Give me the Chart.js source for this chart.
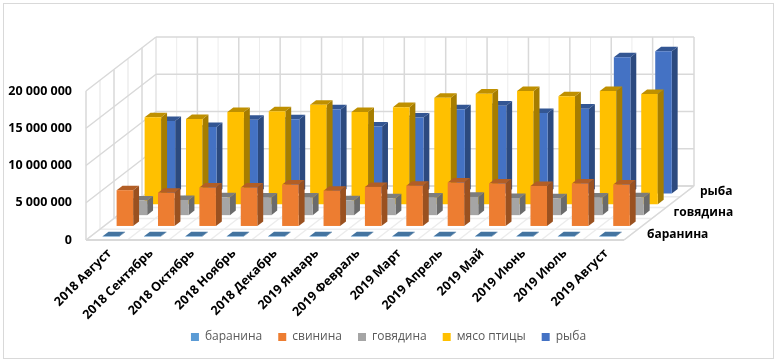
<!DOCTYPE html>
<html>
<head>
<meta charset="utf-8">
<style>
html, body { margin: 0; padding: 0; background: #fff; overflow: hidden; }
#box { position: relative; width: 777px; height: 362px; }
#frame { position: absolute; left: 3px; top: 3px; width: 769px; height: 354px; border: 1px solid #d9d9d9; }
canvas { position: absolute; left: 0; top: 0; }
</style>
<script src="https://cdn.jsdelivr.net/npm/chart.js@4"></script>
</head>
<body>
<div id="box">
<div id="frame"></div>
<canvas id="grafico" width="777" height="362"></canvas>
</div>
<script>
var meses = ['2018 Август','2018 Сентябрь','2018 Октябрь','2018 Ноябрь','2018 Декабрь','2019 Январь','2019 Февраль','2019 Март','2019 Апрель','2019 Май','2019 Июнь','2019 Июль','2019 Август'];
var baranina = [60000,60000,60000,60000,60000,60000,60000,60000,60000,60000,60000,60000,60000];
var svinina = [4800000,4450000,5150000,5150000,5550000,4730000,5240000,5400000,5820000,5700000,5370000,5700000,5550000];
var govyadina = [1960000,2040000,2400000,2350000,2350000,2000000,2270000,2350000,2450000,2300000,2270000,2350000,2400000];
var myaso = [11700000,11450000,12400000,12500000,13360000,12400000,13050000,14300000,14860000,15200000,14500000,15200000,14800000];
var ryba = [9750000,8940000,9900000,9970000,11300000,9000000,10200000,11300000,11800000,10800000,11400000,18300000,19100000];
var etiquetasZ = ['баранина','','говядина','','рыба'];

// profundidad de cada fila de series, en pixeles
var pasoX = 14, pasoY = 10.8;
var huecoZ = 0.3, fondoBarra = 0.42;

function oscurecer(hex, f){
	var n = parseInt(hex.slice(1), 16);
	var r = Math.round((n >> 16) * f), g = Math.round(((n >> 8) & 255) * f), b = Math.round((n & 255) * f);
	return 'rgb('+r+','+g+','+b+')';
}

function cara(ctx, puntos, color){
	ctx.fillStyle = color;
	ctx.beginPath();
	ctx.moveTo(puntos[0][0], puntos[0][1]);
	for (var i = 1; i < puntos.length; i++) ctx.lineTo(puntos[i][0], puntos[i][1]);
	ctx.closePath();
	ctx.fill();
}

// barra con frente, lado y tapa; la posicion sale de las escalas
Chart.BarElement.prototype.draw = function(ctx){
	var z = this.fila + huecoZ;
	var color = this.options.backgroundColor;
	var mitad = this.width / 2;
	var x0 = this.x - mitad + z * pasoX, x1 = this.x + mitad + z * pasoX;
	var top = this.y - z * pasoY, base = this.base - z * pasoY;
	var dx = fondoBarra * pasoX, dy = fondoBarra * pasoY;
	ctx.save();
	cara(ctx, [[x1, top], [x1 + dx, top - dy], [x1 + dx, base - dy], [x1, base]], oscurecer(color, 0.65));
	cara(ctx, [[x0, top], [x0 + dx, top - dy], [x1 + dx, top - dy], [x1, top]], oscurecer(color, 0.75));
	cara(ctx, [[x0, top], [x1, top], [x1, base], [x0, base]], color);
	ctx.restore();
};

function linea(ctx, x0, y0, x1, y1, color, ancho){
	ctx.strokeStyle = color;
	ctx.lineWidth = ancho;
	ctx.beginPath();
	ctx.moveTo(x0, y0);
	ctx.lineTo(x1, y1);
	ctx.stroke();
}

// paredes y piso
var paredes = {
	id: 'paredes',
	afterLayout: function(chart){
		// las etiquetas giradas se recortan al borde de la escala
		chart.scales.x.bottom += 30;
	},
	beforeDatasetsDraw: function(chart){
		chart.data.datasets.forEach(function(d, i){
			chart.getDatasetMeta(i).data.forEach(function(el){ el.fila = i; });
		});
		var ctx = chart.ctx, a = chart.chartArea, y = chart.scales.y;
		var n = meses.length, filas = etiquetasZ.length;
		var fondoX = filas * pasoX, fondoY = filas * pasoY;
		var ancho = (a.right - a.left) / n;
		var gris = '#d9d9d9', claro = '#ececec';
		ctx.save();
		for (var i = 0; i <= n * 2; i++) {
			var xb = a.left + i * ancho / 2;
			var mayor = i % 2 == 0;
			linea(ctx, xb + fondoX, a.top - fondoY, xb + fondoX, a.bottom - fondoY, mayor ? gris : claro, mayor ? 1.5 : 1);
			if (mayor) linea(ctx, xb, a.bottom, xb + fondoX, a.bottom - fondoY, claro, 1.5);
		}
		for (var k = 0; k <= filas; k++) {
			linea(ctx, a.left + k * pasoX, a.top - k * pasoY, a.left + k * pasoX, a.bottom - k * pasoY, k % 2 ? claro : gris, 1.5);
			linea(ctx, a.left + k * pasoX, a.bottom - k * pasoY, a.right + k * pasoX, a.bottom - k * pasoY, k == 0 || k == filas ? gris : claro, k == 0 ? 2 : 1.5);
		}
		y.ticks.forEach(function(t){
			var py = y.getPixelForValue(t.value);
			linea(ctx, a.left, py, a.left + fondoX, py - fondoY, gris, 1.5);
			linea(ctx, a.left + fondoX, py - fondoY, a.right + fondoX, py - fondoY, gris, 1.5);
		});
		linea(ctx, a.right, a.bottom, a.right + fondoX, a.bottom - fondoY, gris, 1.5);
		ctx.restore();
	},
	afterDatasetsDraw: function(chart){
		var ctx = chart.ctx, a = chart.chartArea;
		ctx.save();
		ctx.font = 'bold 12px "Open Sans"';
		ctx.fillStyle = '#000';
		ctx.textBaseline = 'middle';
		etiquetasZ.forEach(function(t, k){
			ctx.fillText(t, a.right + 23 + k * 13.25, a.bottom - (k + 0.5) * pasoY);
		});
		ctx.restore();
	}
};

function serie(nombre, datos, color){
	return { label: nombre, data: datos, backgroundColor: color, borderWidth: 0, clip: false };
}

new Chart(document.getElementById('grafico'), {
	type: 'bar',
	plugins: [paredes],
	data: {
		labels: meses,
		datasets: [
			serie('баранина', baranina, '#5B9BD5'),
			serie('свинина', svinina, '#ED7D31'),
			serie('говядина', govyadina, '#A5A5A5'),
			serie('мясо птицы', myaso, '#FFC000'),
			serie('рыба', ryba, '#4472C4')
		]
	},
	options: {
		responsive: false,
		animation: false,
		layout: { padding: { top: 91, bottom: 9 } },
		grouped: false,
		categoryPercentage: 1,
		barPercentage: 0.4,
		plugins: {
			tooltip: { enabled: false },
			legend: {
				position: 'bottom',
				labels: { boxWidth: 8, boxHeight: 8, padding: 16, color: '#595959', font: { family: '"Open Sans"', size: 12 } }
			}
		},
		scales: {
			x: {
				grid: { display: false, drawTicks: false },
				border: { display: false },
				ticks: { minRotation: 45, maxRotation: 45, autoSkip: false, padding: 6, labelOffset: 3, color: '#000', font: { family: '"Open Sans"', size: 12.5, weight: 'bold' } },
				afterFit: function(s){ s.height = 75; }
			},
			y: {
				min: 0,
				max: 20000000,
				grid: { display: false, drawTicks: false },
				border: { display: false },
				ticks: {
					stepSize: 5000000,
					padding: 14,
					color: '#000',
					font: { family: '"Open Sans"', size: 12.5, weight: 'bold' },
					callback: function(v){ return String(v).replace(/\B(?=(\d{3})+$)/g, ' '); }
				},
				afterFit: function(s){ s.width = 86; }
			},
			derecha: {
				position: 'right',
				grid: { display: false, drawTicks: false },
				border: { display: false },
				ticks: { display: false },
				afterFit: function(s){ s.width = 153; }
			}
		}
	}
});
</script>
</body>
</html>
